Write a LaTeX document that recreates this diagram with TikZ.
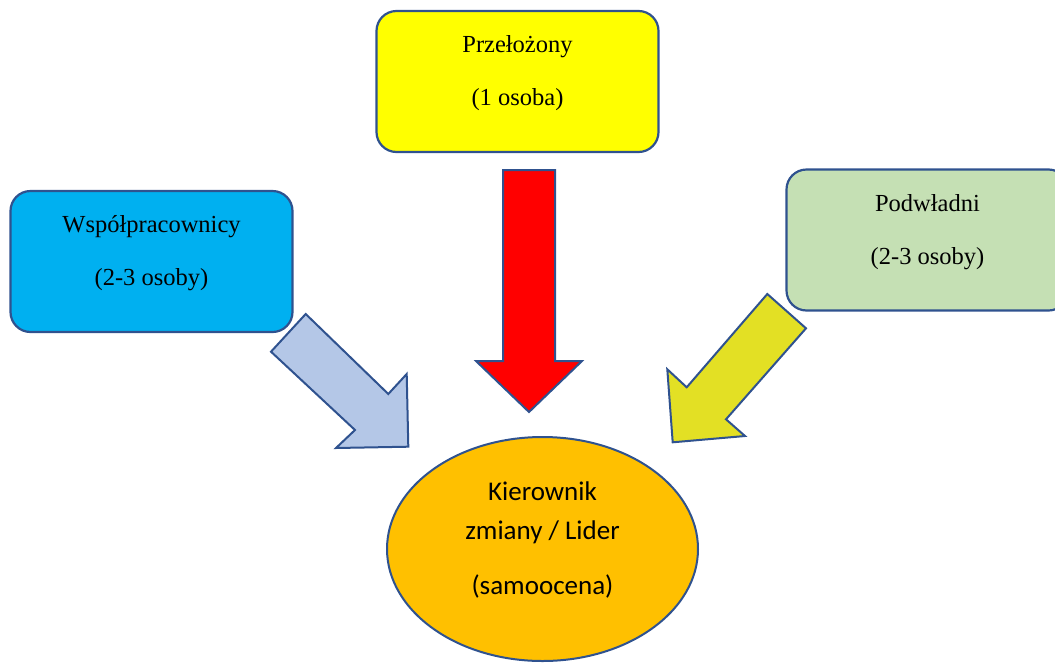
\documentclass[tikz,border=0pt]{standalone}
\usepackage{fontspec}
\setmainfont{Liberation Serif}
\newfontfamily\ovalfont{Carlito}
\usetikzlibrary{calc,shapes.geometric}
\definecolor{edgeblue}{RGB}{47,82,143}
\definecolor{bossfill}{RGB}{255,255,0}
\definecolor{peerfill}{RGB}{0,176,240}
\definecolor{subfill}{RGB}{197,224,180}
\definecolor{leadfill}{RGB}{255,192,0}
\definecolor{redarrow}{RGB}{255,0,0}
\definecolor{bluearrow}{RGB}{180,199,231}
\definecolor{olivearrow}{RGB}{227,224,36}
\tikzset{
  rolebox/.style={draw=edgeblue, line width=2.2pt, rounded corners=20pt,
    minimum width=282pt, minimum height=141pt, inner sep=0pt},
  roletext/.style={align=center, inner sep=0pt,
    font=\fontsize{24.5}{53}\selectfont},
  blockarrow/.style={draw=edgeblue, line width=2pt, line join=miter},
  leadoval/.style={ellipse, draw=edgeblue, line width=2pt, fill=leadfill,
    minimum width=311pt, minimum height=224pt, inner sep=0pt},
  ovaltext/.style={align=center, inner sep=0pt,
    font=\ovalfont\fontsize{27}{39}\selectfont}
}
\begin{document}
\begin{tikzpicture}[x=1pt,y=-1pt]
\useasboundingbox (0,0) rectangle (1055,662);
\clip (0,0) rectangle (1055,662);

% source boxes
\node[rolebox, fill=bossfill] (boss) at (517.5,81.5) {};
\node[roletext] (bosst) at ($(boss.center)+(0,-8)$) {Przełożony\\(1 osoba)};

\node[rolebox, fill=peerfill] (peers) at (151.5,261.5) {};
\node[roletext] (peerst) at ($(peers.center)+(0,-8)$) {Współpracownicy\\(2-3 osoby)};

\node[rolebox, fill=subfill] (subs) at (927.5,240) {};
\node[roletext] (subst) at ($(subs.center)+(0,-8)$) {Podwładni\\(2-3 osoby)};

% block arrows towards the leader
\draw[blockarrow, fill=redarrow]
  (503,170) -- (555,170) -- (555,361) -- (582,361) -- (529,412)
  -- (476,361) -- (503,361) -- cycle;
\draw[blockarrow, fill=bluearrow]
  (305.7,314) -- (388.3,394) -- (406.7,374) -- (408.3,446.7)
  -- (336,448) -- (355,430) -- (271,351.7) -- cycle;
\draw[blockarrow, fill=olivearrow]
  (767.3,294) -- (806,328.3) -- (726,419.3) -- (745,436)
  -- (672.7,442.3) -- (667.3,369.3) -- (686.7,387.3) -- cycle;

% leader
\node[leadoval] (lead) at (542.5,549) {};
\node[ovaltext] (leadt) at ($(lead.center)+(0,-9)$)
  {Kierownik\\zmiany / Lider\\[16pt](samoocena)};
\end{tikzpicture}
\end{document}
